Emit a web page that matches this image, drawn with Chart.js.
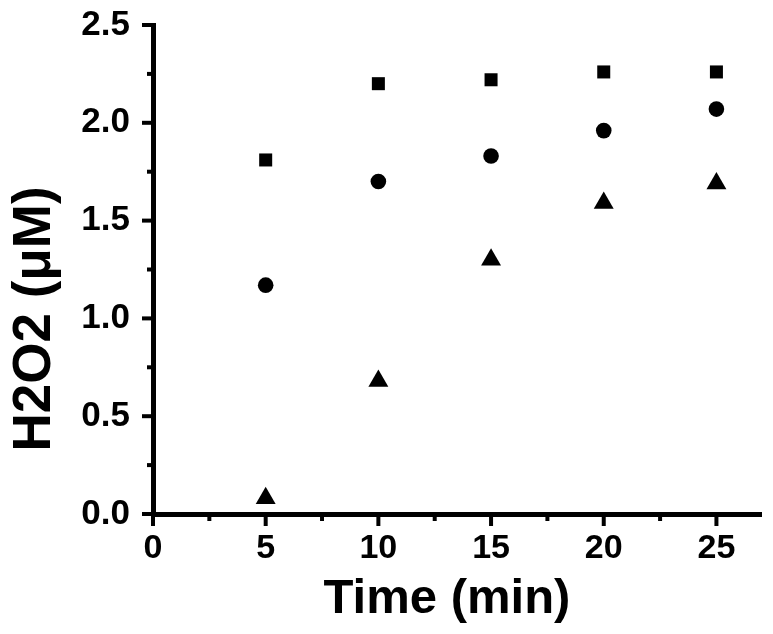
<!DOCTYPE html>
<html>
<head>
<meta charset="utf-8">
<script src="https://cdn.jsdelivr.net/npm/chart.js@4"></script>
<style>
    html, body { margin: 0; padding: 0; background: #fff; }
    #wrap { width: 773px; height: 634px; }
</style>
</head>
<body>
<div id="wrap"><canvas id="chart" width="773" height="634"></canvas></div>
<script>
// 數據
const times = [5, 10, 15, 20, 25];
const squareSeries = [1.81, 2.20, 2.22, 2.26, 2.26];
const circleSeries = [1.17, 1.70, 1.83, 1.96, 2.07];
const triangleSeries = [0.08, 0.68, 1.30, 1.59, 1.69];

const xMajorTicks = [0, 5, 10, 15, 20, 25];
const xMinorTicks = [2.5, 7.5, 12.5, 17.5, 22.5];
const yMajorTicks = [0, 0.5, 1.0, 1.5, 2.0, 2.5];
const yMinorTicks = [0.25, 0.75, 1.25, 1.75, 2.25];

const xTitle = 'Time (min)';
const yTitle = 'H2O2 (\u03BCM)';

const FONT = "'Liberation Sans', Arial, Helvetica, sans-serif";

function toPoints(values) {
    return times.map((t, i) => ({ x: t, y: values[i] }));
}

// 刻度線（主/次）和軸標題
const axisDecor = {
    id: 'axisDecor',
    afterDraw(chart) {
        const ctx = chart.ctx;
        const xs = chart.scales.x;
        const ys = chart.scales.y;
        const area = chart.chartArea;
        const axisY = area.bottom;
        const axisX = area.left;
        ctx.save();
        ctx.strokeStyle = '#000';
        ctx.lineWidth = 4;
        xMajorTicks.forEach(v => {
            const px = xs.getPixelForValue(v);
            ctx.beginPath(); ctx.moveTo(px, axisY); ctx.lineTo(px, axisY + 12); ctx.stroke();
        });
        xMinorTicks.forEach(v => {
            const px = xs.getPixelForValue(v);
            ctx.beginPath(); ctx.moveTo(px, axisY); ctx.lineTo(px, axisY + 7); ctx.stroke();
        });
        yMajorTicks.forEach(v => {
            const py = ys.getPixelForValue(v);
            ctx.beginPath(); ctx.moveTo(axisX, py); ctx.lineTo(axisX - 11, py); ctx.stroke();
        });
        yMinorTicks.forEach(v => {
            const py = ys.getPixelForValue(v);
            ctx.beginPath(); ctx.moveTo(axisX, py); ctx.lineTo(axisX - 6, py); ctx.stroke();
        });

        // 軸標題
        ctx.fillStyle = '#000';
        ctx.textAlign = 'center';
        ctx.textBaseline = 'alphabetic';
        ctx.font = 'bold 49px ' + FONT;
        ctx.fillText(xTitle, area.left + 294, axisY + 99);

        ctx.translate(50, area.bottom - 195);
        ctx.rotate(-Math.PI / 2);
        ctx.font = 'bold 53px ' + FONT;
        ctx.fillText(yTitle, 0, 0);
        ctx.restore();
    }
};

const ctx = document.getElementById('chart').getContext('2d');
new Chart(ctx, {
    type: 'scatter',
    data: {
        datasets: [
            { data: toPoints(squareSeries), pointStyle: 'rect', pointRadius: 9.2, backgroundColor: '#000', borderColor: '#000', borderWidth: 0 },
            { data: toPoints(circleSeries), pointStyle: 'circle', pointRadius: 7.8, backgroundColor: '#000', borderColor: '#000', borderWidth: 0 },
            { data: toPoints(triangleSeries), pointStyle: 'triangle', pointRadius: 11.5, backgroundColor: '#000', borderColor: '#000', borderWidth: 0 }
        ]
    },
    options: {
        responsive: false,
        animation: false,
        clip: false,
        layout: { padding: { left: 0, top: 25, right: 10, bottom: 0 } },
        plugins: { legend: { display: false }, tooltip: { enabled: false } },
        scales: {
            x: {
                type: 'linear',
                min: 0,
                max: 27,
                afterBuildTicks: s => { s.ticks = xMajorTicks.map(v => ({ value: v })); },
                afterFit: s => { s.height = 120; s.paddingLeft = 0; s.paddingRight = 0; },
                grid: { display: false },
                border: { display: true, color: '#000', width: 5 },
                ticks: {
                    color: '#000',
                    padding: 6,
                    maxRotation: 0,
                    autoSkip: false,
                    font: { family: FONT, size: 34, weight: 'bold' },
                    callback: v => String(v)
                }
            },
            y: {
                type: 'linear',
                min: 0,
                max: 2.5,
                afterBuildTicks: s => { s.ticks = yMajorTicks.map(v => ({ value: v })); },
                afterFit: s => { s.width = 153; s.paddingTop = 0; s.paddingBottom = 0; },
                grid: { display: false },
                border: { display: true, color: '#000', width: 5 },
                ticks: {
                    color: '#000',
                    padding: 15,
                    autoSkip: false,
                    font: { family: FONT, size: 35, weight: 'bold' },
                    callback: v => Number(v).toFixed(1)
                }
            }
        }
    },
    plugins: [axisDecor]
});
</script>
</body>
</html>
